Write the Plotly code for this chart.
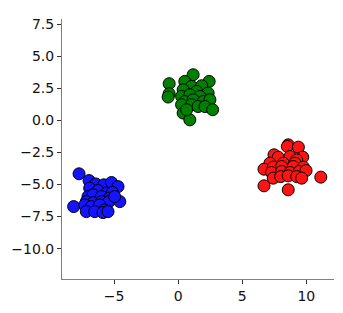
import plotly.graph_objects as go

blue_x = [-7.73, -6.95, -6.43, -5.80, -5.20, -4.69, -6.90, -6.25, -5.59, -5.13, -7.03, -6.64, -5.98, -5.34,
          -7.16, -6.64, -5.98, -5.39, -4.55, -8.15, -7.29, -6.77, -6.12, -5.73, -7.16, -6.51, -5.86, -5.47, -4.95]
blue_y = [-4.16, -4.69, -4.95, -5.02, -4.84, -5.16, -5.28, -5.47, -5.67, -5.62, -5.94, -5.80, -5.94, -6.06,
          -6.33, -6.41, -6.33, -6.33, -6.33, -6.72, -6.59, -6.72, -6.59, -6.98, -7.11, -7.11, -7.19, -7.11, -5.94]

green_x = [-0.70, -0.70, -0.78, 1.17, 0.52, 2.42, 1.05, 1.83, 0.39, 1.44, 2.34, 0.27, 0.91, 1.70,
           0.52, 1.17, 1.95, 2.48, 0.27, 1.05, 1.56, 2.09, 2.69, 0.39, 0.91, 0.66]
green_y = [2.87, 2.09, 1.83, 3.57, 3.05, 3.05, 2.66, 2.71, 2.40, 2.27, 2.14, 1.88, 2.01, 1.88,
           1.48, 1.62, 1.48, 1.62, 1.23, 1.23, 1.09, 1.09, 0.84, 0.58, 0.05, 0.84]

red_x = [8.59, 8.52, 9.38, 7.48, 7.81, 8.73, 9.72, 9.25, 7.16, 8.20, 9.12, 6.70, 7.42, 8.08, 8.98,
         9.77, 7.29, 8.08, 8.73, 9.45, 9.98, 7.42, 8.00, 8.59, 9.25, 9.64, 11.13, 6.70, 8.59]
red_y = [-1.90, -2.03, -2.08, -2.68, -2.86, -2.81, -2.86, -3.07, -3.33, -3.33, -3.33, -3.80, -3.64, -3.59, -3.59,
         -3.64, -4.06, -3.98, -4.06, -3.98, -3.91, -4.50, -4.38, -4.32, -4.38, -4.50, -4.42, -5.10, -5.41]

x_ticks = [-5, 0, 5, 10]
y_ticks = [7.5, 5.0, 2.5, 0.0, -2.5, -5.0, -7.5, -10.0]

fig = go.Figure()
for xs, ys, col in [(blue_x, blue_y, "rgb(20,20,255)"), (green_x, green_y, "rgb(0,128,0)"), (red_x, red_y, "rgb(255,20,20)")]:
    fig.add_trace(go.Scatter(x=xs, y=ys, mode="markers",
                             marker=dict(size=12, color=col, line=dict(color="black", width=1)),
                             showlegend=False))

axis_common = dict(showgrid=False, zeroline=False, showline=True, linecolor="#808080", linewidth=1,
                   ticks="outside", ticklen=4, tickcolor="#333333", tickwidth=1,
                   tickfont=dict(family="DejaVu Sans", size=14, color="#111111"))
fig.update_layout(
    width=343, height=313,
    margin=dict(l=62, r=9, t=19, b=34),
    paper_bgcolor="white", plot_bgcolor="white",
    xaxis=dict(range=[-9.06, 12.16], tickvals=x_ticks, ticktext=[str(v).replace("-", "\u2212") for v in x_ticks], **axis_common),
    yaxis=dict(range=[-12.37, 7.92], tickvals=y_ticks, ticktext=[f"{v:.1f}".replace("-", "\u2212") for v in y_ticks], **axis_common),
)
fig.write_html("out.html")
